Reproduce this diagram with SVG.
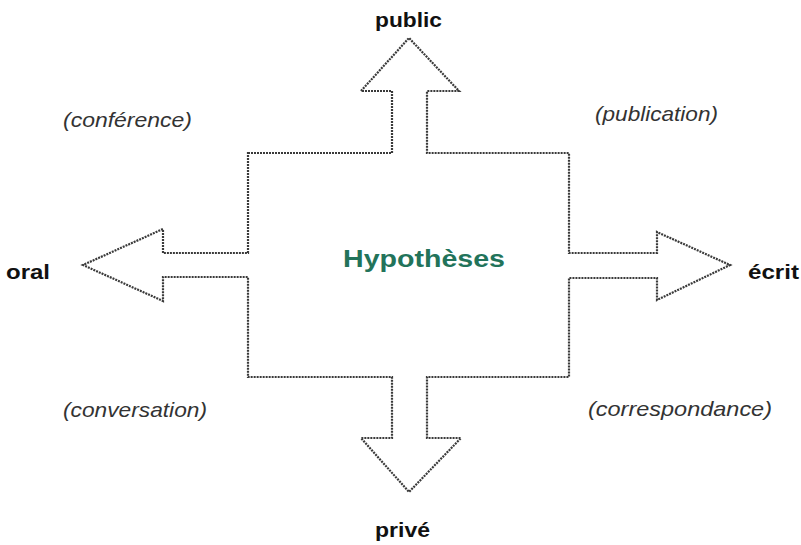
<svg xmlns="http://www.w3.org/2000/svg" width="801" height="545" viewBox="0 0 801 545">
<style>
.shape{fill:none;stroke:#3a3a3a;stroke-width:2.2;stroke-dasharray:2 1}
.lbl{font-family:"Liberation Sans",Arial,sans-serif;font-weight:bold;font-size:20px;fill:#111}
.ital{font-family:"Liberation Sans",Arial,sans-serif;font-style:italic;font-size:21px;fill:#333}
.title{font-family:"Liberation Sans",Arial,sans-serif;font-weight:bold;font-size:23px;fill:#22735a}
</style>
<rect width="801" height="545" fill="#ffffff"/>
<g id="cross">
<path class="shape" d="M248,153 H392 V91 H361 L409,38 L459,91 H427 V153 H569 V253 H657 V232 L730,265 L657,300 V278 H569 V377 H427 V438 H461 L409,492 L361,438 H392 V377 H248 V277 H163 V301 L83,265 L163,229 V253 H248 Z"/>
</g>
<g id="center">
<text class="title" x="343" y="267" textLength="162" lengthAdjust="spacingAndGlyphs">Hypothèses</text>
</g>
<g id="public"><text class="lbl" x="375" y="27" textLength="67" lengthAdjust="spacingAndGlyphs">public</text></g>
<g id="prive"><text class="lbl" x="375" y="537" textLength="55" lengthAdjust="spacingAndGlyphs">privé</text></g>
<g id="oral"><text class="lbl" x="6" y="279" textLength="44" lengthAdjust="spacingAndGlyphs">oral</text></g>
<g id="ecrit"><text class="lbl" x="748" y="279" textLength="51" lengthAdjust="spacingAndGlyphs">écrit</text></g>
<g id="conference"><text class="ital" x="63" y="127" textLength="129" lengthAdjust="spacingAndGlyphs">(conférence)</text></g>
<g id="publication"><text class="ital" x="595" y="121" textLength="123" lengthAdjust="spacingAndGlyphs">(publication)</text></g>
<g id="conversation"><text class="ital" x="63" y="417" textLength="144" lengthAdjust="spacingAndGlyphs">(conversation)</text></g>
<g id="correspondance"><text class="ital" x="588" y="416" textLength="184" lengthAdjust="spacingAndGlyphs">(correspondance)</text></g>
<g id="connectors"></g>
</svg>
